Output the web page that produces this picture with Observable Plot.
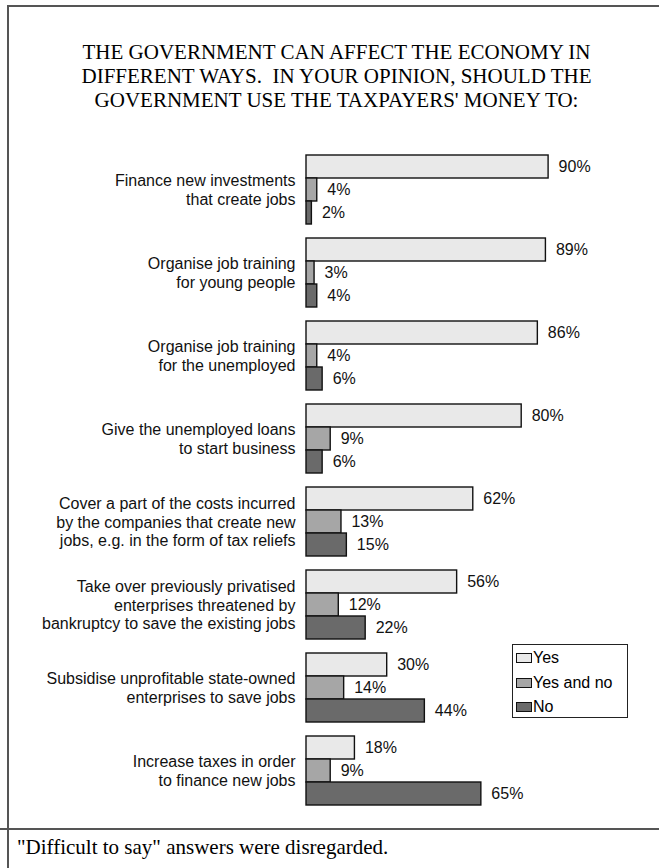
<!DOCTYPE html>
<html>
<head>
<meta charset="utf-8">
<script src="https://cdn.jsdelivr.net/npm/d3@7"></script>
<script src="https://cdn.jsdelivr.net/npm/@observablehq/plot@0.6"></script>
<style>
  html, body { margin: 0; padding: 0; background: #fff; }
  #page { position: relative; width: 659px; height: 868px; overflow: hidden; background: #fff; }
  .rule { position: absolute; background: #555; }
  #title {
    position: absolute; left: 14px; top: 40px; width: 645px;
    font-family: "Liberation Serif", "Times New Roman", serif;
    font-size: 21px; line-height: 24px; text-align: center; color: #000;
    white-space: pre;
  }
  #chart { position: absolute; left: 0; top: 130px; }
  #footer {
    position: absolute; left: 17px; top: 835px;
    font-family: "Liberation Serif", "Times New Roman", serif;
    font-size: 21px; line-height: 24px; color: #000; white-space: pre;
  }
  #legend {
    position: absolute; left: 512px; top: 644px; width: 114px; height: 71px;
    border: 1.5px solid #222; background: #fff;
    font-family: "Liberation Sans", Arial, sans-serif; font-size: 16px; color: #000;
    padding-top: 1px;
  }
  .item { display: flex; align-items: center; height: 24.5px; padding-left: 3px; }
  .sw { width: 14px; height: 8px; border: 1px solid #111; margin-right: 1px; }
</style>
</head>
<body>
<div id="page">
  <div class="rule" style="left:7px; top:5px; width:652px; height:1.5px;"></div>
  <div class="rule" style="left:7px; top:5px; width:1.5px; height:863px;"></div>
  <div class="rule" style="left:0px; top:828px; width:659px; height:1.5px;"></div>
  <div id="title"></div>
  <div id="chart"></div>
  <div id="legend"></div>
  <div id="footer"></div>
</div>
<script>
const titleLines = [
  "THE GOVERNMENT CAN AFFECT THE ECONOMY IN",
  "DIFFERENT WAYS.  IN YOUR OPINION, SHOULD THE",
  "GOVERNMENT USE THE TAXPAYERS' MONEY TO:"
];
const footerText = "\"Difficult to say\" answers were disregarded.";

const categories = [
  "Finance new investments\nthat create jobs",
  "Organise job training\nfor young people",
  "Organise job training\nfor the unemployed",
  "Give the unemployed loans\nto start business",
  "Cover a part of the costs incurred\nby the companies that create new\njobs, e.g. in the form of tax reliefs",
  "Take over previously privatised\nenterprises threatened by\nbankruptcy to save the existing jobs",
  "Subsidise unprofitable state-owned\nenterprises to save jobs",
  "Increase taxes in order\nto finance new jobs"
];
const series = ["Yes", "Yes and no", "No"];
const yesValues = [90, 89, 86, 80, 62, 56, 30, 18];
const yesAndNoValues = [4, 3, 4, 9, 13, 12, 14, 9];
const noValues = [2, 4, 6, 6, 15, 22, 44, 65];
const seriesColors = ["#e9e9e9", "#a6a6a6", "#6a6a6a"];

const valuesBySeries = [yesValues, yesAndNoValues, noValues];
const data = categories.flatMap((c, i) =>
  series.map((s, j) => ({category: c, series: s, value: valuesBySeries[j][i]}))
);

document.getElementById("title").textContent = titleLines.join("\n");
document.getElementById("footer").textContent = footerText;

const plot = Plot.plot({
  width: 659,
  height: 685,
  marginLeft: 306,
  marginRight: 84,
  marginTop: 23,
  marginBottom: 10,
  style: {fontFamily: "'Liberation Sans', Arial, sans-serif", fontSize: "16px", color: "#000", background: "transparent", overflow: "visible"},
  x: {domain: [0, 100], axis: null},
  y: {domain: series, padding: 0, axis: null},
  fy: {domain: categories, paddingInner: 0.158, paddingOuter: 0, label: null},
  color: {domain: series, range: seriesColors},
  marks: [
    Plot.barX(data, {x: "value", y: "series", fy: "category", fill: "series", stroke: "#111", strokeWidth: 1.4}),
    Plot.text(data, {x: "value", y: "series", fy: "category", text: d => d.value + "%", dx: 10, textAnchor: "start", fill: "#111", fontSize: 16}),
    Plot.axisFy({anchor: "left", tickSize: 0, tickPadding: 11, fontSize: 16, lineHeight: 1.18, label: null, fill: "#111"})
  ]
});
document.getElementById("chart").appendChild(plot);

const colorScale = plot.scale("color");
const legend = document.getElementById("legend");
series.forEach((s, i) => {
  const row = document.createElement("div");
  row.className = "item";
  const sw = document.createElement("span");
  sw.className = "sw";
  sw.style.background = colorScale.range[i];
  const label = document.createElement("span");
  label.textContent = s;
  row.appendChild(sw);
  row.appendChild(label);
  legend.appendChild(row);
});
</script>
</body>
</html>
